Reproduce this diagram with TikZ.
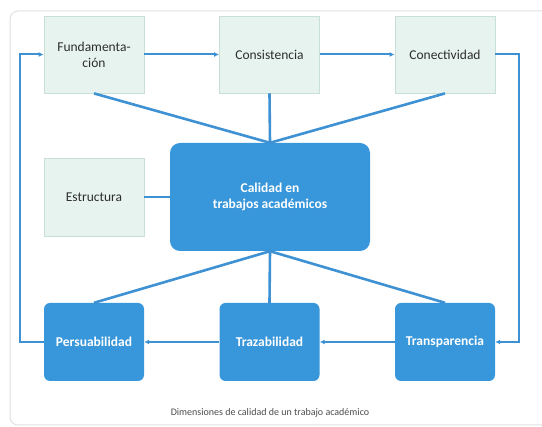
\documentclass[tikz,border=0pt]{standalone}
\usepackage{fontspec}
\setmainfont{Carlito}
\usetikzlibrary{arrows.meta}
\definecolor{azul}{RGB}{56,150,218}
\definecolor{linea}{RGB}{62,145,210}
\definecolor{verdeclaro}{RGB}{231,243,239}
\definecolor{bordeclaro}{RGB}{200,224,214}
\definecolor{texto}{RGB}{45,45,45}
\begin{document}
\begin{tikzpicture}[x=1pt, y=-1pt,
    claro/.style={rectangle, draw=bordeclaro, line width=0.8pt, fill=verdeclaro, minimum width=100pt, minimum height=77pt, text=texto, align=center, font=\fontsize{13.5}{16}\selectfont},
    oscuro/.style={rectangle, rounded corners=6pt, fill=azul, minimum width=100pt, minimum height=78pt, text=white, align=center, font=\fontsize{13.5}{16}\selectfont\bfseries},
    enlace/.style={draw=linea, line width=2.6pt},
    flujo/.style={draw=linea, line width=2pt, -{Latex[length=5pt, width=5pt]}}]
    \useasboundingbox (0,0) rectangle (542,427);
    \clip (0,0) rectangle (542,427);
    \draw[draw=black!12, line width=1pt, rounded corners=8pt] (10,11) rectangle (560,425);

    \node[claro] at (94,54.5) (FUND) {Fundamenta-\\ción};
    \node[claro] at (269.5,54.5) (CONS) {Consistencia};
    \node[claro] at (445,54.5) (CONE) {Conectividad};
    \node[claro, minimum height=78pt] at (94,197) (ESTR) {Estructura};
    \node[oscuro, rounded corners=10pt, minimum width=200pt, minimum height=108pt] at (270,197) (CAL) {Calidad en\\trabajos académicos};
    \node[oscuro] at (94,342) (PERS) {Persuabilidad};
    \node[oscuro] at (269.5,342) (TRAZ) {Trazabilidad};
    \node[oscuro] at (445,342) (TRAN) {Transparencia};

    \draw[enlace] (FUND.south) -- (CAL.north);
    \draw[enlace] (CONS.south) -- (CAL.north);
    \draw[enlace] (CONE.south) -- (CAL.north);
    \draw[enlace] (ESTR.east) -- (CAL.west);
    \draw[enlace] (CAL.south) -- (PERS.north);
    \draw[enlace] (CAL.south) -- (TRAZ.north);
    \draw[enlace] (CAL.south) -- (TRAN.north);

    \draw[flujo] (FUND) -- (CONS);
    \draw[flujo] (CONS) -- (CONE);
    \draw[flujo] (CONE.east) -- ++(24,0) |- (TRAN.east);
    \draw[flujo] (TRAN) -- (TRAZ);
    \draw[flujo] (TRAZ) -- (PERS);
    \draw[flujo] (PERS.west) -- ++(-24,0) |- (FUND.west);

    \node[text=black!70, font=\fontsize{10}{12}\selectfont] at (270,413) (CAP) {Dimensiones de calidad de un trabajo académico};
\end{tikzpicture}
\end{document}
